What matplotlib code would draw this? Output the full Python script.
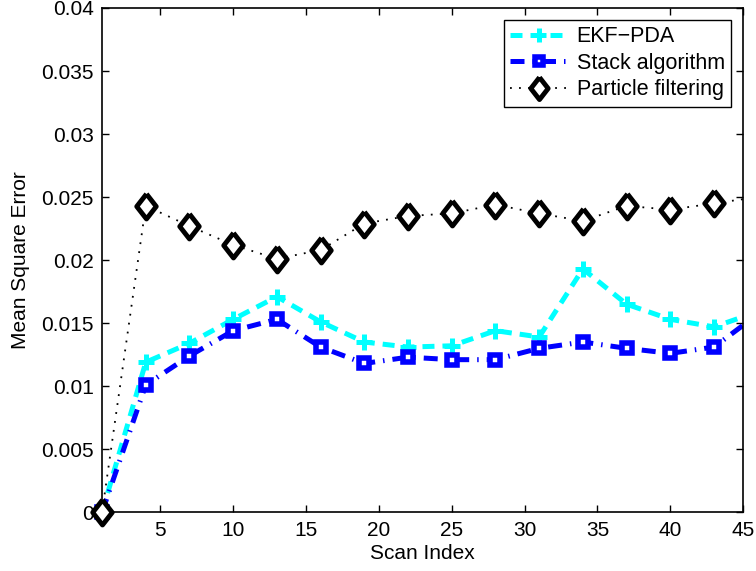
import numpy as np
import matplotlib
matplotlib.use("Agg")
import matplotlib.pyplot as plt
from matplotlib.ticker import FixedLocator, FuncFormatter
from matplotlib.lines import Line2D

plt.rcParams['font.family'] = ['Liberation Sans', 'DejaVu Sans']

# scan indices (last point sits just past the x limit)
scan = [1, 4, 7, 10, 13, 16, 19, 22, 25, 28, 31, 34, 37, 40, 43, 46]

ekf_pda = [0.0, 0.0119, 0.0134, 0.0153, 0.0171, 0.0151, 0.0135, 0.0131,
           0.0132, 0.0144, 0.0139, 0.0193, 0.0165, 0.0153, 0.0147, 0.0159]
stack = [0.0, 0.0101, 0.0124, 0.0144, 0.0153, 0.0131, 0.0118, 0.0123,
         0.0121, 0.0121, 0.0130, 0.0135, 0.0130, 0.0126, 0.0131, 0.0157]
particle = [0.0, 0.0243, 0.0227, 0.0212, 0.0201, 0.0208, 0.0229, 0.0235,
            0.0237, 0.0244, 0.0237, 0.0231, 0.0243, 0.0240, 0.0245, 0.0250]

labels = ["EKF\u2212PDA", "Stack algorithm", "Particle filtering"]

# wide diamond, a bit taller than it is wide
diamond = [(0, 1), (0.78, 0), (0, -1), (-0.78, 0), (0, 1)]

styles = [
    dict(color="cyan", linestyle=(0, (2.4, 1.6)), linewidth=3.6,
         marker="+", markersize=11, markeredgewidth=3.6),
    dict(color="blue", linestyle=(0, (2.8, 1.6, 0.3, 1.6)), linewidth=3.6,
         marker="s", markersize=7.5, markeredgewidth=4,
         markerfacecolor="white", markeredgecolor="blue"),
    dict(color="black", linestyle=(0, (1, 4)), linewidth=1.3,
         marker=diamond, markersize=18, markeredgewidth=3.5,
         markerfacecolor="white", markeredgecolor="black"),
]

fig = plt.figure(figsize=(7.56, 5.71), dpi=100)
ax = fig.add_axes([0.135, 0.103, 0.848, 0.883])
ax.set_xlim(1, 45)
ax.set_ylim(0, 0.04)

xs = np.array(scan)
inside = xs <= 45
for ys, st in zip([ekf_pda, stack, particle], styles):
    ys = np.array(ys)
    line_st = {k: v for k, v in st.items() if not k.startswith("marker")}
    ax.plot(xs, ys, **line_st)
    # markers are drawn unclipped so the ones on the axes edge show fully
    mk_st = {k: v for k, v in st.items() if k != "linestyle" and k != "linewidth"}
    ax.plot(xs[inside], ys[inside], linestyle="none", clip_on=False, zorder=3, **mk_st)

ax.xaxis.set_major_locator(FixedLocator(np.arange(5, 46, 5)))
ax.yaxis.set_major_locator(FixedLocator(np.linspace(0, 0.04, 9)))
ax.yaxis.set_major_formatter(FuncFormatter(lambda v, p: "%g" % round(v, 4)))
ax.tick_params(direction="in", top=True, right=True, length=5, width=1,
               labelsize=15, pad=6)
for s in ax.spines.values():
    s.set_linewidth(1.2)

ax.set_xlabel("Scan Index", fontsize=15, labelpad=3)
ax.set_ylabel("Mean Square Error", fontsize=15, labelpad=8)

# legend keys: line plus marker for each series
handles = [Line2D([], [], **st) for st in styles]
handles[0].set_markersize(10)
handles[1].set_markersize(6)
handles[2].set_markersize(16)
leg = ax.legend(handles, labels, loc="upper right",
                prop={'size': 15.5},
                fancybox=False, edgecolor="black", framealpha=1,
                handlelength=2.7, handletextpad=0.4, labelspacing=0.25,
                borderpad=0.3, borderaxespad=0.55)
leg.get_frame().set_linewidth(1.0)

fig.savefig("out.png", dpi=100)
